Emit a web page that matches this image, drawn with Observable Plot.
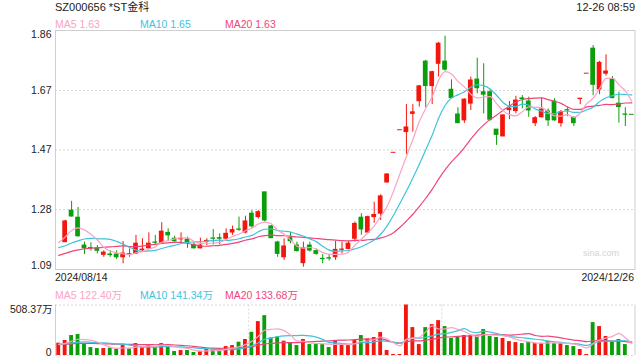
<!DOCTYPE html>
<html><head><meta charset="utf-8">
<script src="https://cdn.jsdelivr.net/npm/d3@7"></script>
<script src="https://cdn.jsdelivr.net/npm/@observablehq/plot@0.6"></script>
<style>
body{margin:0;background:#fff;}
#c{position:relative;width:640px;height:360px;font-family:"Liberation Sans",Arial,"Noto Sans CJK SC",sans-serif;overflow:hidden;background:#fff}
.t{position:absolute;white-space:nowrap;line-height:12px;}
#c svg{position:absolute;left:0}
</style></head><body><div id="c"></div>
<script>
// ---- data ----
const title = "SZ000656 *ST金科";
const timeLabel = "12-26 08:59";
const dateLabels = ["2024/08/14", "2024/12/26"];
const maLabels = ["MA5 1.63", "MA10 1.65", "MA20 1.63"];
const volMaLabels = ["MA5 122.40万", "MA10 141.34万", "MA20 133.68万"];
const priceTicks = [1.86, 1.6675, 1.475, 1.2825, 1.09];
const priceTickLabels = ["1.86", "1.67", "1.47", "1.28", "1.09"];
const volTicks = [508.37, 0];
const volTickLabels = ["508.37万", "0"];

const open = [1.205,1.177,1.279,1.256,1.166,1.158,1.157,1.136,1.137,1.137,
1.128,1.138,1.139,1.151,1.157,1.176,1.175,1.207,1.188,1.186,
1.185,1.168,1.157,1.179,1.189,1.190,1.188,1.208,1.218,1.208,
1.269,1.258,1.338,1.228,1.176,1.128,1.190,1.166,1.109,1.166,
1.148,1.123,1.125,1.128,1.152,1.155,1.188,1.256,1.208,1.258,
1.269,1.370,1.466,1.539,1.533,1.592,1.633,1.761,1.682,1.754,
1.761,1.670,1.590,1.571,1.625,1.703,1.662,1.662,1.541,1.519,
1.604,1.601,1.642,1.632,1.562,1.581,1.600,1.632,1.562,1.604,
1.579,1.640,1.722,1.803,1.671,1.722,1.703,1.625,1.590,1.589];
const close = [1.227,1.244,1.260,1.196,1.157,1.157,1.149,1.143,1.135,1.128,
1.140,1.136,1.172,1.153,1.172,1.175,1.211,1.199,1.180,1.188,
1.175,1.157,1.166,1.181,1.188,1.188,1.204,1.216,1.217,1.244,
1.228,1.274,1.247,1.190,1.139,1.163,1.180,1.148,1.157,1.150,
1.139,1.122,1.124,1.152,1.153,1.172,1.236,1.218,1.258,1.265,
1.325,1.396,1.466,1.539,1.548,1.597,1.681,1.682,1.727,1.819,
1.735,1.643,1.562,1.638,1.700,1.675,1.654,1.573,1.524,1.587,
1.609,1.635,1.640,1.603,1.578,1.606,1.571,1.571,1.597,1.603,
1.562,1.641,1.722,1.686,1.757,1.729,1.643,1.614,1.589,1.589];
const high = [1.232,1.248,1.309,1.289,1.177,1.175,1.166,1.149,1.149,1.149,
1.179,1.155,1.199,1.188,1.207,1.199,1.240,1.220,1.196,1.207,
1.193,1.177,1.190,1.188,1.218,1.204,1.220,1.229,1.258,1.261,
1.279,1.279,1.339,1.231,1.180,1.188,1.209,1.177,1.177,1.177,
1.155,1.137,1.137,1.179,1.177,1.180,1.242,1.269,1.261,1.306,
1.330,1.398,1.466,1.539,1.622,1.622,1.684,1.765,1.730,1.823,
1.843,1.702,1.612,1.641,1.711,1.772,1.754,1.671,1.541,1.589,
1.632,1.649,1.651,1.646,1.583,1.643,1.608,1.641,1.603,1.612,
1.583,1.641,1.722,1.813,1.762,1.783,1.713,1.662,1.612,1.589];
const low = [1.200,1.175,1.258,1.193,1.137,1.148,1.139,1.128,1.128,1.121,
1.107,1.128,1.137,1.145,1.155,1.166,1.172,1.182,1.177,1.172,
1.157,1.155,1.155,1.166,1.168,1.168,1.184,1.199,1.212,1.204,
1.222,1.252,1.242,1.188,1.128,1.118,1.172,1.145,1.096,1.145,
1.135,1.107,1.116,1.118,1.139,1.152,1.177,1.199,1.204,1.238,
1.247,1.368,1.466,1.539,1.461,1.533,1.614,1.612,1.622,1.711,
1.730,1.641,1.560,1.561,1.603,1.657,1.592,1.568,1.490,1.518,
1.573,1.592,1.608,1.581,1.551,1.579,1.551,1.568,1.549,1.583,
1.551,1.622,1.722,1.651,1.654,1.714,1.641,1.562,1.551,1.589];
// volume in 万
const volume = [124,151,201,211,117,80,70,70,74,64,
100,67,120,84,110,84,120,97,40,50,
50,30,43,60,57,60,90,100,134,161,
234,341,401,177,187,144,124,100,161,110,
110,110,80,151,110,100,151,201,167,181,
231,50,10,10,508.37,281,110,281,311,351,
291,171,191,201,201,191,261,191,181,171,
140,130,120,130,120,120,144,120,120,100,
90,60,10,331,291,191,140,161,110,0];
// sessions before the window (estimated from where the MA lines start)
const prevClose = [1.12,1.13,1.10,1.08,1.127,1.119,1.112,1.105,1.098,1.102,
1.184,1.170,1.126,1.097,1.137,1.155,1.153,1.153,1.190];
const prevVolume = [100,115,90,120,105,95,130,110,100,85,120,140,110,95,125,105,90,115,130];

// ---- styles ----
const RED = "#f2160c", GREEN = "#0a9e0a";
const C5 = "#fba3c3", C10 = "#3ec3df", C20 = "#ee4679";
const FONT = "'Liberation Sans', Arial, 'Noto Sans CJK SC', sans-serif";

// ---- tables ----
const allC = prevClose.concat(close), allV = prevVolume.concat(volume), P = prevClose.length;
const ma = (arr, k, i) => d3.mean(arr.slice(i + P - k + 1, i + P + 1));
const candles = open.map((o, i) => {
  const c = close[i], pc = allC[i + P - 1];
  return {i, open: o, close: c, high: high[i], low: low[i], vol: volume[i],
    color: (c > o || (c === o && c > pc)) ? RED : GREEN,
    ma5: ma(allC, 5, i), ma10: ma(allC, 10, i), ma20: ma(allC, 20, i),
    v5: ma(allV, 5, i), v10: ma(allV, 10, i), v20: ma(allV, 20, i)};
});
// in the reference the first session shows only its volume bar; its candle is cut off at the left edge
const shownCandles = candles.slice(1);

const root = document.getElementById("c");
function txt(s, css, color) {
  const d = document.createElement("div");
  d.className = "t"; d.textContent = s; d.style.cssText = css; if (color) d.style.color = color;
  root.appendChild(d);
}
txt(title, "left:55px;top:1px;font-size:11px;color:#222");
txt(timeLabel, "right:5px;top:1px;font-size:11px;color:#222");
[55, 140, 225].forEach((x, k) => txt(maLabels[k], `left:${x}px;top:18px;font-size:10.5px`, [C5, C10, C20][k]));
txt(dateLabels[0], "left:55px;top:271px;font-size:10.5px;color:#222");
txt(dateLabels[1], "right:6px;top:271px;font-size:10.5px;color:#222");
[55, 140, 225].forEach((x, k) => txt(volMaLabels[k], `left:${x}px;top:289px;font-size:10.5px`, [C5, C10, C20][k]));

const X = {domain: [0, open.length], axis: null};
const mid = d => d.i + 0.5;
const lineOpts = (key, color) => ({x: mid, y: key, stroke: color, strokeWidth: 1.2, curve: "monotone-x"});

const main = Plot.plot({
  width: 640, height: 285, marginLeft: 55, marginRight: 5.5, marginTop: 30, marginBottom: 16,
  x: X, y: {domain: [1.0885, 1.8617], axis: null}, color: {type: "identity"},
  style: {fontFamily: FONT, fontSize: "10.5px", background: "transparent", overflow: "visible"},
  marks: [
    Plot.ruleY(priceTicks.slice(1, 4), {stroke: "#d8d8d8", strokeDasharray: "2,2"}),
    Plot.frame({stroke: "#cfcfcf"}),
    Plot.text(priceTicks.slice(0, 1), {y: d => d, text: priceTickLabels.slice(0, 1), frameAnchor: "left", textAnchor: "end", dx: -4, lineAnchor: "top", fill: "#222"}),
    Plot.text(priceTicks.slice(1, 4), {y: d => d, text: priceTickLabels.slice(1, 4), frameAnchor: "left", textAnchor: "end", dx: -4, fill: "#222"}),
    Plot.text(priceTicks.slice(4), {y: d => d, text: priceTickLabels.slice(4), frameAnchor: "left", textAnchor: "end", dx: -4, lineAnchor: "bottom", fill: "#222"}),
    Plot.text(["sina.com"], {text: d => d, frameAnchor: "bottom-right", dx: -16, dy: -14, fill: "#d4d4d4", fontSize: 9}),
    Plot.ruleX(shownCandles, {x: mid, y1: "low", y2: "high", stroke: "color", strokeWidth: 1}),
    Plot.rectY(shownCandles, {x1: "i", x2: d => d.i + 1, y1: d => Math.min(d.open, d.close), y2: d => Math.max(d.open, d.close),
      fill: "color", insetLeft: 0.85, insetRight: 0.85, insetTop: -0.5, insetBottom: -0.5}),
    Plot.line(candles, lineOpts("ma20", C20)),
    Plot.line(candles, lineOpts("ma10", C10)),
    Plot.line(candles, lineOpts("ma5", C5))
  ]
});
main.style.top = "0px";
root.appendChild(main);

const vol = Plot.plot({
  width: 640, height: 70, marginLeft: 55, marginRight: 5.5, marginTop: 14.5, marginBottom: 5,
  x: X, y: {domain: [0, volTicks[0]], axis: null}, color: {type: "identity"},
  style: {fontFamily: FONT, fontSize: "10.5px", background: "transparent", overflow: "visible"},
  marks: [
    Plot.ruleY(volTicks, {stroke: "#d8d8d8", strokeDasharray: "2,2"}),
    Plot.ruleX([X.domain[0], X.domain[1]], {stroke: "#cfcfcf"}),
    Plot.ruleX([open.length / 3, open.length * 2 / 3], {stroke: "#d8d8d8", strokeDasharray: "2,2"}),
    Plot.text(volTicks.slice(0, 1), {y: d => d, text: volTickLabels.slice(0, 1), frameAnchor: "left", textAnchor: "end", dx: -3, lineAnchor: "top", dy: 1, fill: "#222"}),
    Plot.text(volTicks.slice(1), {y: d => d, text: volTickLabels.slice(1), frameAnchor: "left", textAnchor: "end", dx: -4, lineAnchor: "bottom", fill: "#222"}),
    Plot.rectY(candles, {x1: "i", x2: d => d.i + 1, y1: 0, y2: "vol", fill: "color", insetLeft: 1.3, insetRight: 1.3}),
    Plot.line(candles, lineOpts("v20", C20)),
    Plot.line(candles, lineOpts("v10", C10)),
    Plot.line(candles, lineOpts("v5", C5))
  ]
});
vol.style.top = "290px";
root.appendChild(vol);
</script>
</body></html>
